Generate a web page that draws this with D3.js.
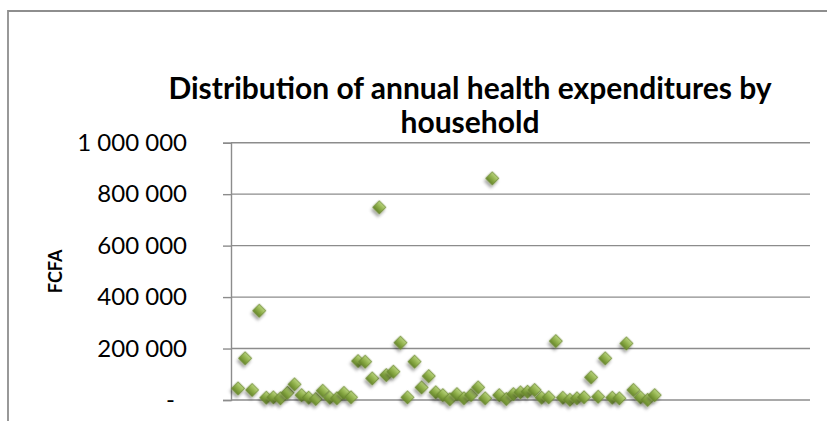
<!DOCTYPE html>
<html>
<head>
<meta charset="utf-8">
<script src="https://cdn.jsdelivr.net/npm/d3@7"></script>
<style>
  html, body { margin: 0; padding: 0; background: #fff; }
  svg { display: block; }
  text { font-family: Lato, "Open Sans", "Liberation Sans", sans-serif; fill: #000; }
</style>
</head>
<body>
<svg id="chart" width="827" height="421"></svg>
<script>
// Annual health expenditure per household (FCFA), one value per household
const households = d3.range(1, 61);
const expenditures = [
  45000, 162000, 39000, 347000, 9000, 10500, 6600, 28000, 61000, 19000,
  9000, 4000, 36000, 9000, 6600, 28000, 10500, 151500, 149000, 84000,
  749000, 97000, 110000, 222700, 10500, 149000, 49000, 93000, 30000, 19000,
  2700, 23000, 6600, 19000, 49000, 6600, 861500, 19000, 4000, 23000,
  30000, 32000, 39000, 9000, 10500, 229000, 9000, 1000, 6600, 10500,
  88000, 12800, 162000, 9000, 6600, 220000, 39000, 10500, 500, 19000
];
const yTicks = [0, 200000, 400000, 600000, 800000, 1000000];
const yTickLabels = ["-", "200 000", "400 000", "600 000", "800 000", "1 000 000"];
const titleLines = ["Distribution of annual health expenditures by", "household"];
const yAxisTitle = "FCFA";

const svg = d3.select("#chart");

// chart area frame (continues past the right and bottom edges)
svg.append("path")
  .attr("d", "M8,421 L8,11 L827,11")
  .attr("fill", "none")
  .attr("stroke", "#8e8e8e")
  .attr("stroke-width", 1.8);

const plot = { left: 231, right: 810, top: 142.7, bottom: 400 };

const x = d3.scaleLinear().domain([0, 82]).range([plot.left, plot.right]);
const y = d3.scaleLinear().domain([0, 1000000]).range([plot.bottom, plot.top]);

// marker look: bevelled green diamond with soft shadow
const defs = svg.append("defs");
const grad = defs.append("linearGradient")
  .attr("id", "markerFill").attr("x1", 0).attr("y1", 0).attr("x2", 0).attr("y2", 1);
grad.append("stop").attr("offset", "0%").attr("stop-color", "#b9d47e");
grad.append("stop").attr("offset", "50%").attr("stop-color", "#8fb04a");
grad.append("stop").attr("offset", "100%").attr("stop-color", "#66862b");
const shadow = defs.append("filter").attr("id", "markerShadow")
  .attr("x", "-100%").attr("y", "-100%").attr("width", "300%").attr("height", "300%");
shadow.append("feDropShadow")
  .attr("dx", 1).attr("dy", 3).attr("stdDeviation", 1.6)
  .attr("flood-color", "#000").attr("flood-opacity", 0.35);

// horizontal gridlines
svg.append("g")
  .selectAll("line")
  .data(yTicks.slice(1))
  .join("line")
  .attr("x1", plot.left).attr("x2", plot.right)
  .attr("y1", d => y(d)).attr("y2", d => y(d))
  .attr("stroke", "#8c8c8c").attr("stroke-width", 1.4);

// value axis with tick labels
const yAxis = d3.axisLeft(y)
  .tickValues(yTicks)
  .tickSize(8)
  .tickPadding(36)
  .tickFormat((d, i) => yTickLabels[i]);
const gy = svg.append("g").attr("transform", `translate(${plot.left},0)`).call(yAxis);
gy.select(".domain").attr("stroke", "#8c8c8c").attr("stroke-width", 1.4);
gy.selectAll(".tick line").attr("stroke", "#8c8c8c").attr("stroke-width", 1.4);
gy.selectAll(".tick text")
  .attr("font-family", "Lato, 'Open Sans', sans-serif")
  .attr("font-size", 24)
  .attr("fill", "#000");
// the zero label sits further in, like an accounting format
gy.selectAll(".tick text").filter(d => d === 0).attr("x", -56);

// category axis line
svg.append("line")
  .attr("x1", plot.left).attr("x2", plot.right)
  .attr("y1", y(0)).attr("y2", y(0))
  .attr("stroke", "#8c8c8c").attr("stroke-width", 1.4);

// axis title
svg.append("text")
  .attr("transform", `translate(62,${(plot.top + plot.bottom) / 2}) rotate(-90)`)
  .attr("text-anchor", "middle")
  .attr("font-size", 18)
  .attr("font-weight", "bold")
  .text(yAxisTitle);

// chart title
svg.append("g")
  .selectAll("text")
  .data(titleLines)
  .join("text")
  .attr("x", 470)
  .attr("y", (d, i) => 99 + i * 34)
  .attr("text-anchor", "middle")
  .attr("font-size", 30)
  .attr("font-weight", "bold")
  .text(d => d);

// scatter markers
const diamond = d3.symbol(d3.symbolSquare, 88);
svg.append("g")
  .selectAll("path")
  .data(households.map((h, i) => ({ h, v: expenditures[i] })))
  .join("path")
  .attr("d", diamond)
  .attr("transform", d => `translate(${x(d.h)},${y(d.v)}) rotate(45)`)
  .attr("fill", "url(#markerFill)")
  .attr("stroke", "#6a8830")
  .attr("stroke-width", 0.8)
  .attr("filter", "url(#markerShadow)");
</script>
</body>
</html>
